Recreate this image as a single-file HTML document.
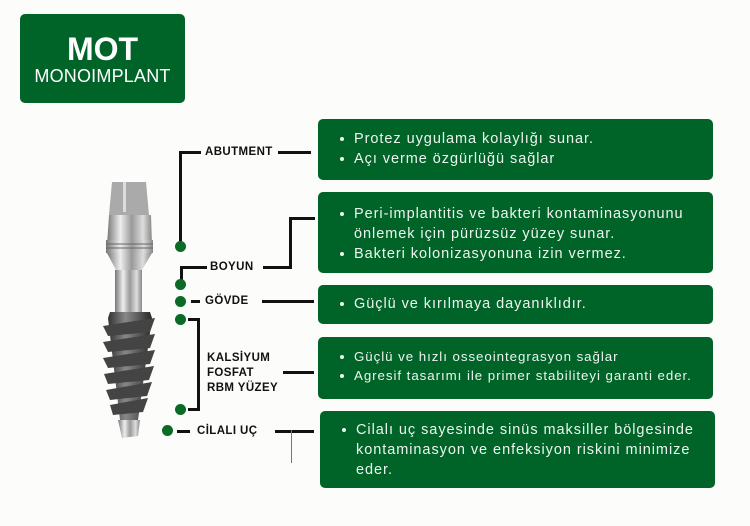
<!DOCTYPE html>
<html><head><meta charset="utf-8"><style>
*{margin:0;padding:0;box-sizing:border-box}
body{width:750px;height:526px;background:#fcfcfb;position:relative;overflow:hidden;font-family:"Liberation Sans",sans-serif}
.g{position:absolute;background:#006428;border-radius:5px;color:#eef4ee}
.box{font-size:14.5px;letter-spacing:0.95px;line-height:20px;padding:0 0 0 22px;white-space:nowrap}
.box ul{list-style:none}
.box li{position:relative;padding-left:14px}
.box li:before{content:"";position:absolute;left:0;top:8px;width:4px;height:4px;border-radius:50%;background:#eef4ee}
.l{position:absolute;background:#111}
.d{position:absolute;width:11px;height:11px;border-radius:50%;background:#0b6a26}
.t{position:absolute;font-weight:bold;font-size:11.5px;color:#111;letter-spacing:0.4px;line-height:15px}
</style></head><body>
<div class="g" style="left:20px;top:14px;width:165px;height:89px;text-align:center">
<div style="font-weight:bold;font-size:32px;margin-top:18px;line-height:34px;color:#fff">MOT</div>
<div style="font-size:18px;line-height:20px;color:#fff;letter-spacing:0.2px">MONOIMPLANT</div></div>

<div class="g box" style="left:318px;top:119px;width:395px;height:61px;padding-top:10px"><ul><li>Protez uygulama kolaylığı sunar.</li><li>Açı verme özgürlüğü sağlar</li></ul></div>
<div class="g box" style="left:318px;top:192px;width:395px;height:81px;padding-top:12px"><ul><li>Peri-implantitis ve bakteri kontaminasyonunu<br>önlemek için pürüzsüz yüzey sunar.</li><li>Bakteri kolonizasyonuna izin vermez.</li></ul></div>
<div class="g box" style="left:318px;top:285px;width:395px;height:39px;padding-top:9px"><ul><li>Güçlü ve kırılmaya dayanıklıdır.</li></ul></div>
<div class="g box" style="left:318px;top:337px;width:395px;height:62px;padding-top:10px;font-size:13.3px;line-height:19px;letter-spacing:0.95px"><ul><li>Güçlü ve hızlı osseointegrasyon sağlar</li><li>Agresif tasarımı ile primer stabiliteyi garanti eder.</li></ul></div>
<div class="g box" style="left:320px;top:411px;width:395px;height:77px;padding-top:9px"><ul><li>Cilalı uç sayesinde sinüs maksiller bölgesinde<br>kontaminasyon ve enfeksiyon riskini minimize<br>eder.</li></ul></div>

<svg style="position:absolute;left:0;top:0" width="750" height="526">
<defs>
<linearGradient id="m" x1="0" x2="1"><stop offset="0" stop-color="#777"/><stop offset=".3" stop-color="#eee"/><stop offset=".55" stop-color="#999"/><stop offset=".8" stop-color="#ddd"/><stop offset="1" stop-color="#888"/></linearGradient>
<linearGradient id="k" x1="0" x2="1"><stop offset="0" stop-color="#333"/><stop offset=".4" stop-color="#888"/><stop offset="1" stop-color="#2a2a2a"/></linearGradient>
</defs>
<path d="M112 182 L146 182 L149 215 L109 215 Z" fill="#aaa"/>
<rect x="123" y="182" width="3" height="30" fill="#ddd"/>
<path d="M109 215 L151 215 L152 245 L107 245 Z" fill="url(#m)"/>
<rect x="106" y="240" width="47" height="13" fill="url(#m)"/>
<path d="M106 244h47M106 248h47" stroke="#666" stroke-width="1"/>
<path d="M107 253 L152 253 L142 270 L116 270 Z" fill="url(#m)"/>
<rect x="115" y="270" width="27" height="42" fill="url(#m)"/>
<path d="M110 312 L150 312 L152 318 L138 420 L120 420 L108 318 Z" fill="url(#k)"/>
<g fill="#444">
<path d="M103 326 L155 318 L150 332 L108 336Z"/><path d="M103 342 L155 334 L150 348 L108 352Z"/>
<path d="M103 358 L155 350 L150 364 L108 368Z"/><path d="M104 374 L154 366 L149 380 L108 384Z"/>
<path d="M106 390 L152 382 L147 396 L110 400Z"/><path d="M110 405 L148 398 L143 412 L113 415Z"/>
</g>
<path d="M118 420 L140 420 L138 436 L122 438 Z" fill="url(#m)"/>
</svg>

<div class="l" style="left:179px;top:151px;width:22px;height:3px"></div>
<div class="l" style="left:179px;top:151px;width:3px;height:93px"></div>
<div class="d" style="left:175px;top:241px"></div>
<div class="t" style="left:205px;top:145px">ABUTMENT</div>
<div class="l" style="left:278px;top:151px;width:33px;height:3px"></div>
<div class="l" style="left:180px;top:266px;width:27px;height:3px"></div>
<div class="l" style="left:180px;top:266px;width:3px;height:14px"></div>
<div class="d" style="left:175px;top:279px"></div>
<div class="t" style="left:210px;top:260px">BOYUN</div>
<div class="l" style="left:263px;top:266px;width:29px;height:3px"></div>
<div class="l" style="left:289px;top:217px;width:3px;height:52px"></div>
<div class="l" style="left:289px;top:217px;width:26px;height:3px"></div>
<div class="d" style="left:175px;top:296px"></div>
<div class="l" style="left:191px;top:300px;width:9px;height:3px"></div>
<div class="t" style="left:205px;top:294px">GÖVDE</div>
<div class="l" style="left:262px;top:300px;width:52px;height:3px"></div>
<div class="d" style="left:175px;top:314px"></div>
<div class="d" style="left:175px;top:404px"></div>
<div class="l" style="left:188px;top:318px;width:12px;height:3px"></div>
<div class="l" style="left:197px;top:318px;width:3px;height:93px"></div>
<div class="l" style="left:188px;top:408px;width:12px;height:3px"></div>
<div class="t" style="left:207px;top:351px">KALSİYUM<br>FOSFAT<br>RBM YÜZEY</div>
<div class="l" style="left:283px;top:371px;width:31px;height:3px"></div>
<div class="d" style="left:162px;top:425px"></div>
<div class="l" style="left:177px;top:430px;width:13px;height:3px"></div>
<div class="t" style="left:197px;top:424px">CİLALI UÇ</div>
<div class="l" style="left:275px;top:430px;width:39px;height:3px"></div>
<div class="l" style="left:291px;top:430px;width:1px;height:33px;background:#777"></div>
</body></html>
